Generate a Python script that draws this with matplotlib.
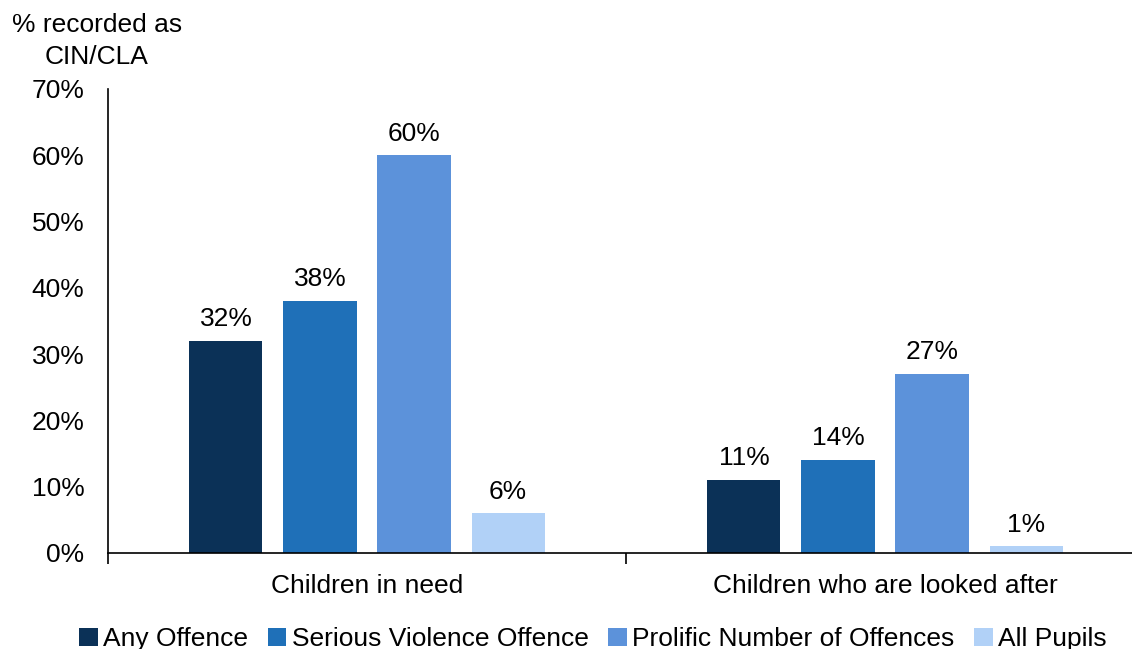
import numpy as np
import matplotlib.pyplot as plt

plt.rcParams['font.family'] = ['Liberation Sans', 'DejaVu Sans']

categories = ["Children in need", "Children who are looked after"]
series = ["Any Offence", "Serious Violence Offence",
          "Prolific Number of Offences", "All Pupils"]
any_offence = [32, 11]
serious_violence = [38, 14]
prolific = [60, 27]
all_pupils = [6, 1]
colors = ["#0B3157", "#1F70B8", "#5C92DA", "#B1D1F7"]

values = [any_offence, serious_violence, prolific, all_pupils]
fs = 19

fig = plt.figure(figsize=(11.32, 6.49), dpi=100)
ax = fig.add_axes([108 / 1132, 96 / 649, 1036 / 1132, 464 / 649])

x = np.arange(len(categories))
pitch = 0.1815
width = 0.141
handles = []
for i, (name, vals) in enumerate(zip(series, values)):
    pos = x + (i - 1.5) * pitch
    b = ax.bar(pos, vals, width, color=colors[i], label=name)
    handles.append(b)
    for px, v in zip(pos, vals):
        ax.annotate(f"{v}%", (px, v), xytext=(0, 7), textcoords="offset points",
                    ha="center", va="bottom", fontsize=fs)

ax.set_xlim(-0.5, 1.5)
ax.set_ylim(0, 70)
ax.set_yticks(range(0, 71, 10))
ax.set_yticklabels([f"{t}%" for t in range(0, 71, 10)], fontsize=fs)
ax.tick_params(axis="y", length=0, pad=17)

# category labels between group boundary ticks
ax.set_xticks([-0.5, 0.5, 1.5])
ax.set_xticklabels([])
ax.tick_params(axis="x", length=8, width=1.2, direction="out")
ax.set_xticks(x, minor=True)
ax.set_xticklabels(categories, minor=True, fontsize=fs)
ax.tick_params(axis="x", which="minor", length=0, pad=15)

for s in ["top", "right"]:
    ax.spines[s].set_visible(False)
ax.spines["left"].set_linewidth(1.2)
ax.spines["bottom"].set_linewidth(1.2)

fig.text(97 / 1132, 1 - 41 / 649, "% recorded as\nCIN/CLA", ha="center", va="center",
         fontsize=fs, linespacing=1.38)

fig.legend(handles=handles, loc="center", bbox_to_anchor=(593 / 1132, 1 - 639 / 649),
           ncol=4, frameon=False, fontsize=fs, handlelength=0.7, handleheight=0.7,
           handletextpad=0.2, columnspacing=0.75)

fig.savefig("out.png", dpi=100)
